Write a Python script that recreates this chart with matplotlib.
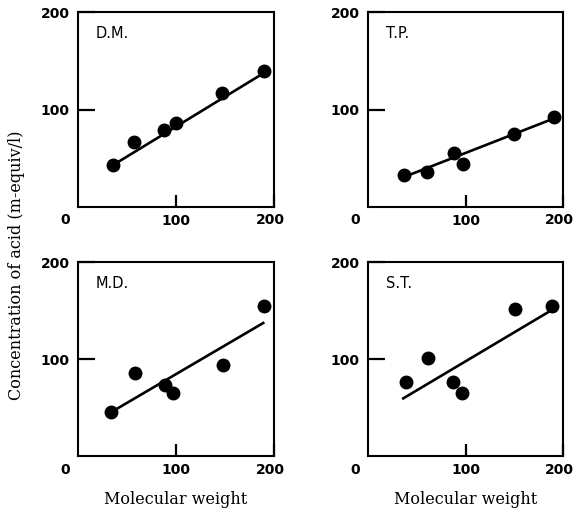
import matplotlib
matplotlib.use("Agg")
import matplotlib.pyplot as plt

# panel names
subjects = ["D.M.", "T.P.", "M.D.", "S.T."]

# molecular weight / concentration of acid
dm_x = [36, 57, 88, 100, 147, 190]
dm_y = [43, 67, 79, 86, 117, 140]
dm_fit_x = [36, 190]
dm_fit_y = [43, 138]

tp_x = [37, 60, 88, 97, 150, 191]
tp_y = [33, 36, 55, 44, 75, 92]
tp_fit_x = [38, 191]
tp_fit_y = [31, 91]

md_x = [34, 58, 89, 97, 148, 190]
md_y = [46, 86, 73, 65, 94, 155]
md_fit_x = [38, 190]
md_fit_y = [48, 138]

st_x = [39, 62, 87, 96, 151, 189]
st_y = [77, 101, 77, 65, 152, 155]
st_fit_x = [35, 189]
st_fit_y = [59, 151]

xs = [dm_x, tp_x, md_x, st_x]
ys = [dm_y, tp_y, md_y, st_y]
fit_xs = [dm_fit_x, tp_fit_x, md_fit_x, st_fit_x]
fit_ys = [dm_fit_y, tp_fit_y, md_fit_y, st_fit_y]

fig = plt.figure(figsize=(5.77, 5.18), dpi=100)

positions = [
    [0.1352, 0.601, 0.340, 0.375],
    [0.6378, 0.601, 0.338, 0.375],
    [0.1352, 0.119, 0.340, 0.375],
    [0.6378, 0.119, 0.338, 0.375],
]

num_font = dict(family="DejaVu Sans", weight="bold", size=10)

for i in range(4):
    ax = fig.add_axes(positions[i])
    ax.plot(fit_xs[i], fit_ys[i], color="black", lw=1.9, solid_capstyle="butt")
    ax.plot(xs[i], ys[i], "o", color="black", ms=9)
    ax.set_xlim(0, 200)
    ax.set_ylim(0, 200)
    for s in ax.spines.values():
        s.set_linewidth(1.5)
    ax.set_xticks([100, 200])
    ax.set_yticks([100, 200])
    ax.set_xticklabels(["100", ""], fontdict=num_font)
    ax.set_yticklabels(["100", "200"], fontdict=num_font)
    ax.tick_params(axis="x", direction="in", length=9, width=1.6, pad=5)
    ax.tick_params(axis="y", direction="in", length=12, width=1.6, pad=6)
    ax.text(-8, -7, "0", ha="right", va="top", clip_on=False, **num_font)
    ax.text(196, -7, "200", ha="center", va="top", clip_on=False, **num_font)
    ax.text(0.09, 0.93, subjects[i], transform=ax.transAxes, ha="left", va="top",
            family="DejaVu Sans", size=10.5)
    if i >= 2:
        ax.set_xlabel("Molecular weight", family="DejaVu Serif", size=11.5, labelpad=10)

fig.text(0.028, 0.487, "Concentration of acid (m-equiv/l)", rotation=90,
         ha="center", va="center", family="DejaVu Serif", size=11.5)

fig.savefig("out.png", dpi=100)
